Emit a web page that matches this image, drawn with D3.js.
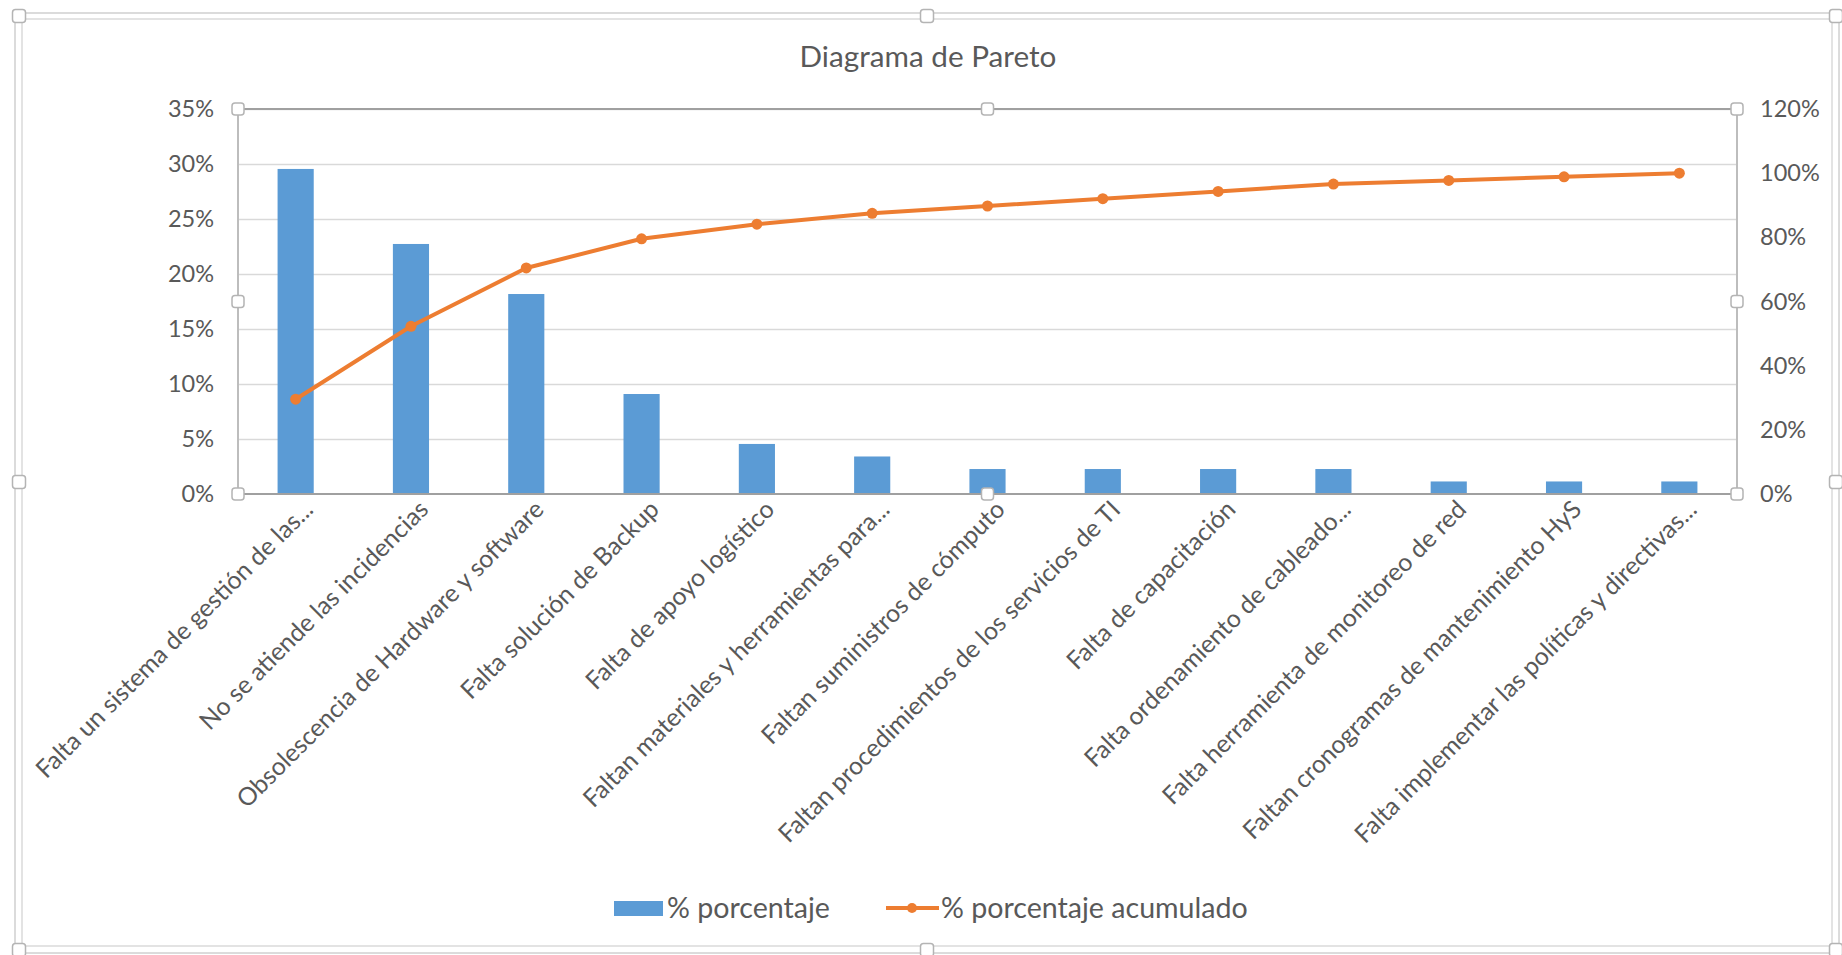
<!DOCTYPE html>
<html>
<head>
<meta charset="utf-8">
<script src="https://cdn.jsdelivr.net/npm/d3@7"></script>
<style>
	body { margin: 0; background: #fff; }
	text { font-family: Lato, "Open Sans", sans-serif; fill: #595959; }
</style>
</head>
<body>
<div id="chart"></div>
<script>
var categories = [
	"Falta un sistema de gestión de las...",
	"No se atiende las incidencias",
	"Obsolescencia de Hardware y software",
	"Falta solución de Backup",
	"Falta de apoyo logístico",
	"Faltan materiales y herramientas para...",
	"Faltan suministros de cómputo",
	"Faltan procedimientos de los servicios de TI",
	"Falta de capacitación",
	"Falta ordenamiento de cableado...",
	"Falta herramienta de monitoreo de red",
	"Faltan cronogramas de mantenimiento HyS",
	"Falta implementar las políticas y directivas..."
];
var porcentaje = [29.55, 22.73, 18.18, 9.09, 4.55, 3.41, 2.27, 2.27, 2.27, 2.27, 1.14, 1.14, 1.14];
var acumulado = [29.55, 52.27, 70.45, 79.55, 84.09, 87.50, 89.77, 92.05, 94.32, 96.59, 97.73, 98.86, 100.00];
var leftTicks = [0, 5, 10, 15, 20, 25, 30, 35];
var rightTicks = [0, 20, 40, 60, 80, 100, 120];
var seriesNames = ["% porcentaje", "% porcentaje acumulado"];

var width = 1842;
var height = 955;
var plotLeft = 238, plotRight = 1737, plotTop = 109, plotBottom = 494;
var blue = "#5B9BD5", orange = "#ED7D31";

var svg = d3.select("#chart")
	.append("svg")
	.attr("width", width)
	.attr("height", height);

// outer frame (selection frame + chart border)
svg.append("rect")
	.attr("x", 15).attr("y", 13)
	.attr("width", 1839 - 15).attr("height", 953 - 13)
	.style("fill", "none").style("stroke", "#D0D0D0").style("stroke-width", 1.5);
svg.append("rect")
	.attr("x", 22).attr("y", 19)
	.attr("width", 1832 - 22).attr("height", 946 - 19)
	.style("fill", "none").style("stroke", "#DADADA").style("stroke-width", 1.5);

function handle(g, x, y, s) {
	g.append("rect")
		.attr("x", x - s / 2).attr("y", y - s / 2)
		.attr("width", s).attr("height", s)
		.attr("rx", 3)
		.style("fill", "#fff")
		.style("stroke", "#B4B4B4")
		.style("stroke-width", 1.5);
}

var frameG = svg.append("g");
[[19, 16], [927, 16], [1836, 16], [19, 482], [1836, 482], [19, 950], [927, 950], [1836, 950]].forEach(p => {
	handle(frameG, p[0], p[1], 13);
})

svg.append("text")
	.attr("x", 928).attr("y", 67)
	.attr("text-anchor", "middle")
	.style("font-size", "29.7px")
	.text("Diagrama de Pareto");

var x = d3.scaleBand()
	.domain(categories)
	.range([plotLeft, plotRight])
	.paddingInner(0.6865)
	.paddingOuter(0.6865 / 2);
var yLeft = d3.scaleLinear().domain([0, 35]).range([plotBottom, plotTop]);
var yRight = d3.scaleLinear().domain([0, 120]).range([plotBottom, plotTop]);

// gridlines
var grid = svg.append("g")
	.attr("transform", "translate(" + plotLeft + ",0)")
	.call(d3.axisLeft(yLeft).tickValues(leftTicks.slice(1)).tickSize(-(plotRight - plotLeft)).tickFormat(""));
grid.select(".domain").remove();
grid.selectAll("line").style("stroke", "#D9D9D9").style("stroke-width", 1.5);

// bars
svg.append("g").selectAll("rect")
	.data(porcentaje)
	.join("rect")
	.attr("x", (d, i) => x(categories[i]))
	.attr("y", d => yLeft(d))
	.attr("width", x.bandwidth())
	.attr("height", d => plotBottom - yLeft(d))
	.style("fill", blue);

// plot area border
svg.append("line").attr("x1", plotLeft).attr("x2", plotLeft).attr("y1", plotTop).attr("y2", plotBottom)
	.style("stroke", "#BDBDBD").style("stroke-width", 2);
svg.append("line").attr("x1", plotRight).attr("x2", plotRight).attr("y1", plotTop).attr("y2", plotBottom)
	.style("stroke", "#BDBDBD").style("stroke-width", 2);
svg.append("line").attr("x1", plotLeft).attr("x2", plotRight).attr("y1", plotTop).attr("y2", plotTop)
	.style("stroke", "#A0A0A0").style("stroke-width", 2);
svg.append("line").attr("x1", plotLeft).attr("x2", plotRight).attr("y1", plotBottom).attr("y2", plotBottom)
	.style("stroke", "#A0A0A0").style("stroke-width", 2);

// line
var cx = (d, i) => x(categories[i]) + x.bandwidth() / 2;
var line = d3.line().x(cx).y(d => yRight(d));
svg.append("path")
	.datum(acumulado)
	.attr("d", line)
	.style("fill", "none")
	.style("stroke", orange)
	.style("stroke-width", 4)
	.style("stroke-linejoin", "round");
svg.append("g").selectAll("circle")
	.data(acumulado)
	.join("circle")
	.attr("cx", cx)
	.attr("cy", d => yRight(d))
	.attr("r", 5.5)
	.style("fill", orange);

// axes
var leftAxis = svg.append("g")
	.attr("transform", "translate(" + plotLeft + ",0)")
	.call(d3.axisLeft(yLeft).tickValues(leftTicks).tickSize(0).tickPadding(24).tickFormat(d => d + "%"));
var rightAxis = svg.append("g")
	.attr("transform", "translate(" + plotRight + ",0)")
	.call(d3.axisRight(yRight).tickValues(rightTicks).tickSize(0).tickPadding(23).tickFormat(d => d + "%"));
var xAxis = svg.append("g")
	.attr("transform", "translate(0," + plotBottom + ")")
	.call(d3.axisBottom(x).tickSize(0));
[leftAxis, rightAxis, xAxis].forEach(a => {
	a.select(".domain").remove();
	a.selectAll("text").style("font-family", "Lato").style("fill", "#595959");
})
leftAxis.selectAll("text").style("font-size", "23.5px");
rightAxis.selectAll("text").style("font-size", "23.5px");
xAxis.selectAll("text")
	.style("font-size", "24.8px")
	.attr("text-anchor", "end")
	.attr("y", 0)
	.attr("dy", 0)
	.attr("transform", "translate(19,17) rotate(-45)");

// plot area handles
var plotG = svg.append("g");
var midX = (plotLeft + plotRight) / 2, midY = (plotTop + plotBottom) / 2;
[[plotLeft, plotTop], [midX, plotTop], [plotRight, plotTop], [plotLeft, midY], [plotRight, midY], [plotLeft, plotBottom], [midX, plotBottom], [plotRight, plotBottom]].forEach(p => {
	handle(plotG, p[0], p[1], 12);
})

// legend
var legend = svg.append("g");
legend.append("rect")
	.attr("x", 614).attr("y", 901)
	.attr("width", 49).attr("height", 15)
	.style("fill", blue);
legend.append("text")
	.attr("x", 667).attr("y", 908).attr("dy", "0.35em")
	.style("font-size", "28.6px")
	.text(seriesNames[0]);
legend.append("line")
	.attr("x1", 886).attr("x2", 939).attr("y1", 908).attr("y2", 908)
	.style("stroke", orange).style("stroke-width", 4);
legend.append("circle")
	.attr("cx", 912).attr("cy", 908).attr("r", 5)
	.style("fill", orange);
legend.append("text")
	.attr("x", 941).attr("y", 908).attr("dy", "0.35em")
	.style("font-size", "28.6px")
	.text(seriesNames[1]);
</script>
</body>
</html>
